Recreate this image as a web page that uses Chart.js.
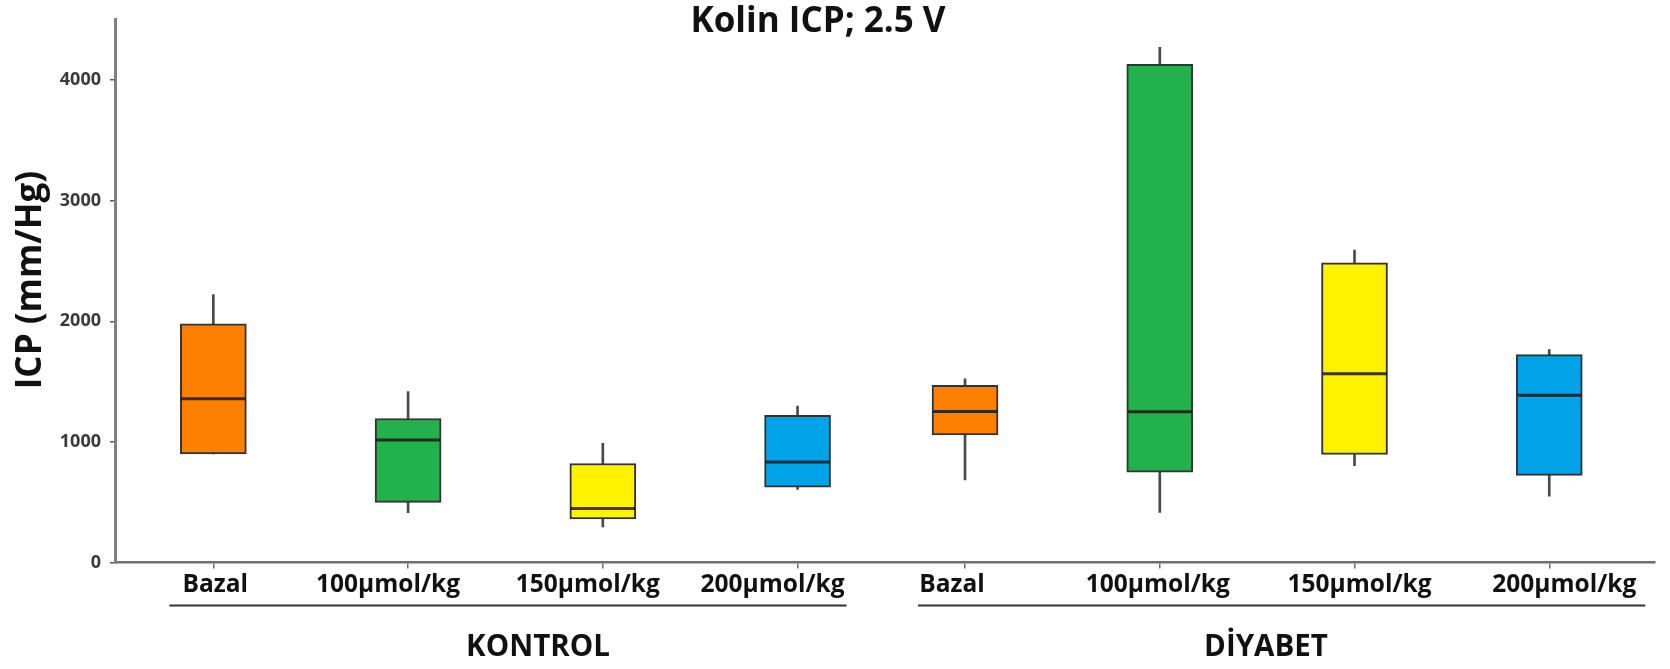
<!DOCTYPE html>
<html>
<head>
<meta charset="utf-8">
<script src="https://cdn.jsdelivr.net/npm/chart.js@4.4.1/dist/chart.umd.min.js"></script>
<style>
  html, body { margin: 0; padding: 0; background: #ffffff; }
  #wrap { width: 1670px; height: 669px; }
</style>
</head>
<body>
<div id="wrap"><canvas id="c" width="1670" height="669"></canvas></div>
<script>
// ---- data ----
const groups = ['KONTROL', 'DİYABET'];
const doses = ['Bazal', '100μmol/kg', '150μmol/kg', '200μmol/kg'];
const categories = [...doses, ...doses];
const minimum = [900, 414, 296, 605, 685, 416, 802, 550];
const q1      = [900, 499, 361, 624, 1057, 750, 897, 722];
const median  = [1358, 1016, 447, 833, 1252, 1251, 1566, 1387];
const q3      = [1979, 1194, 821, 1221, 1470, 4131, 2485, 1724];
const maximum = [2221, 1418, 989, 1298, 1523, 4271, 2590, 1766];
const yTicks = [0, 1000, 2000, 3000, 4000];
const chartTitle = 'Kolin ICP; 2.5 V';
const yTitle = 'ICP (mm/Hg)';

// ---- styling / layout ----
const doseColors = ['#FF7F00', '#22B14C', '#FFF200', '#00A2E8'];
const FONT = '"Open Sans", "Noto Sans", "DejaVu Sans", sans-serif';
const GROUP_SHIFT = 0.14;            // the two groups sit a little closer together
const labelNudge = [2, -20, -15, -25, -13, -2, 5, 15];  // px shift of each category label
const xPos = categories.map((_, i) => i - (i >= doses.length ? GROUP_SHIFT : 0));

const boxColors = categories.map((_, i) => doseColors[i % doses.length]);

const overlay = {
  id: 'overlay',
  afterDatasetsDraw(chart) {
    const ctx = chart.ctx, y = chart.scales.y;
    const meta = chart.getDatasetMeta(1);
    ctx.save();
    ctx.strokeStyle = 'rgba(25,25,25,0.85)';
    ctx.lineWidth = 3;
    meta.data.forEach((bar, i) => {
      const py = y.getPixelForValue(median[i]);
      ctx.beginPath();
      ctx.moveTo(bar.x - bar.width / 2 + 1, py);
      ctx.lineTo(bar.x + bar.width / 2 - 1, py);
      ctx.stroke();
    });
    ctx.restore();
  },
  afterDraw(chart) {
    const ctx = chart.ctx, x = chart.scales.x, area = chart.chartArea;
    ctx.save();
    ctx.fillStyle = '#111111';
    ctx.textAlign = 'center';
    ctx.textBaseline = 'middle';

    // title
    ctx.font = 'bold 35px ' + FONT;
    ctx.fillText(chartTitle, 818, 22);

    // y axis title
    ctx.save();
    ctx.translate(31, 280);
    ctx.rotate(-Math.PI / 2);
    ctx.font = 'bold 35px ' + FONT;
    ctx.fillText(yTitle, 0, 0);
    ctx.restore();

    // category labels
    ctx.font = 'bold 24.5px ' + FONT;
    categories.forEach((c, i) => {
      ctx.fillText(c, x.getPixelForValue(xPos[i]) + labelNudge[i], area.bottom + 23);
    });

    // group brackets and names
    const spans = [
      { from: x.getPixelForValue(xPos[0]) - 44, to: x.getPixelForValue(xPos[3]) + 49, label: 538 },
      { from: x.getPixelForValue(xPos[4]) - 47, to: x.getPixelForValue(xPos[7]) + 96, label: 1266 }
    ];
    ctx.strokeStyle = '#333333';
    ctx.lineWidth = 2;
    ctx.font = 'bold 29.5px ' + FONT;
    spans.forEach((s, g) => {
      ctx.beginPath();
      ctx.moveTo(s.from, area.bottom + 43);
      ctx.lineTo(s.to, area.bottom + 43);
      ctx.stroke();
      ctx.fillText(groups[g], s.label, area.bottom + 85);
    });
    ctx.restore();
  }
};

new Chart(document.getElementById('c'), {
  type: 'bar',
  data: {
    datasets: [
      {
        label: 'whisker',
        data: categories.map((_, i) => ({ x: xPos[i], y: [minimum[i], maximum[i]] })),
        backgroundColor: '#4a4a4a',
        borderWidth: 0,
        barThickness: 2,
        grouped: false,
        order: 2
      },
      {
        label: 'box',
        data: categories.map((_, i) => ({ x: xPos[i], y: [q1[i], q3[i]] })),
        backgroundColor: boxColors,
        borderColor: '#333333',
        borderWidth: 2,
        borderSkipped: false,
        barThickness: 66,
        grouped: false,
        order: 1
      }
    ]
  },
  options: {
    responsive: false,
    animation: false,
    devicePixelRatio: 1,
    layout: { padding: { left: 0, right: 15, top: 14, bottom: 0 } },
    plugins: { legend: { display: false }, tooltip: { enabled: false }, title: { display: false } },
    scales: {
      x: {
        type: 'linear',
        offset: false,
        min: -0.505,
        max: 7.403,
        grid: { display: true, offset: false, drawOnChartArea: false, drawTicks: true, tickLength: 6, color: '#6a6a6a', lineWidth: 1.5 },
        border: { display: true, color: '#6e6e6e', width: 2.5 },
        ticks: { display: false },
        afterBuildTicks(scale) { scale.ticks = xPos.map(v => ({ value: v })); },
        afterFit(scale) { scale.height = 106.5; }
      },
      y: {
        type: 'linear',
        min: 0,
        max: 4500,
        grid: { display: true, drawOnChartArea: false, drawTicks: true, tickLength: 5, color: '#555555', lineWidth: 1.5 },
        border: { display: true, color: '#7f7f7f', width: 3 },
        ticks: {
          padding: 9,
          color: '#3a3a3a',
          font: { family: FONT, size: 18, weight: 'bold' },
          callback: v => String(v)
        },
        afterBuildTicks(scale) { scale.ticks = yTicks.map(v => ({ value: v })); },
        afterFit(scale) { scale.width = 115; }
      }
    }
  },
  plugins: [overlay]
});
</script>
</body>
</html>
